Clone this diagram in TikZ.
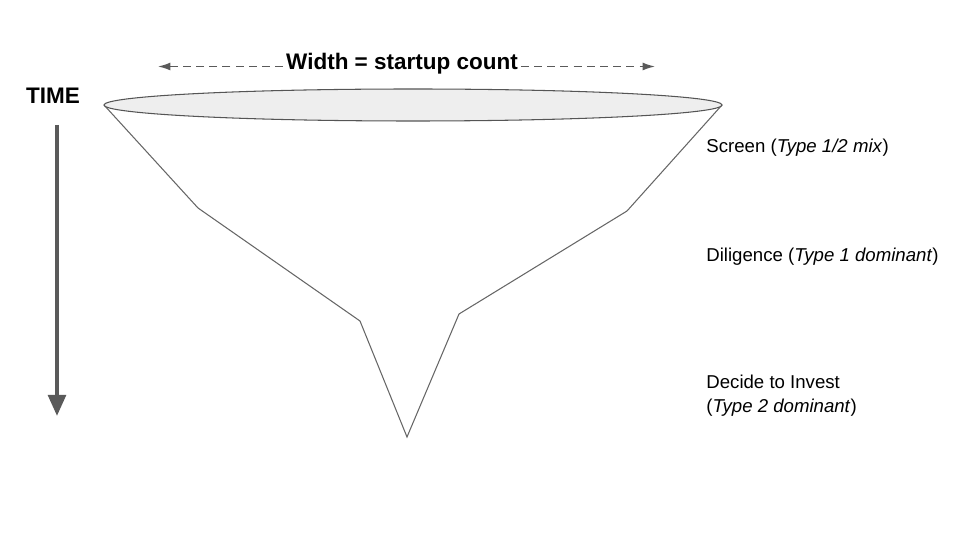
\documentclass[tikz,border=0pt]{standalone}
\usepackage{fontspec}
\setmainfont{Liberation Sans}
\usetikzlibrary{arrows.meta}
\definecolor{rimfill}{HTML}{EEEEEE}
\definecolor{rimline}{HTML}{555555}
\definecolor{arrowgray}{HTML}{5A5A5A}
\tikzset{
  stage/.style={anchor=west,align=left,font=\fontsize{10.6}{13.6}\selectfont},
  heading/.style={font=\fontsize{12.8}{15}\selectfont\bfseries},
}
\begin{document}
\begin{tikzpicture}[x=0.02cm,y=-0.02cm,line width=0.6pt]
\useasboundingbox (0,0) rectangle (960,540);
% funnel body
\draw [color=rimline!90] (104,105) -- (198,208) -- (360,321) -- (407,437) -- (459,314) -- (627,211) -- (722,105);
\filldraw [fill=rimfill,draw=rimline] (413,105) ellipse [x radius=309,y radius=16];
% width arrow
\node [heading,inner sep=1.5pt] (width) at (402,64) {Width = startup count};
\coordinate (wl) at (158,66.5);
\coordinate (wr) at (655,66.5);
\draw [arrowgray,line width=0.8pt,dash pattern=on 4.5pt off 3pt,-{Latex[length=7pt,width=4.5pt]}] (width.west |- wl) -- (wl);
\draw [arrowgray,line width=0.8pt,dash pattern=on 4.5pt off 3pt,-{Latex[length=7pt,width=4.5pt]}] (width.east |- wr) -- (wr);
% time arrow
\node [heading] (time) at (53,96) {TIME};
\coordinate (tend) at (57,416);
\draw [arrowgray,line width=2.3pt,-{Triangle[length=12pt,width=10pt]}] (57,125) -- (tend);
% stages
\node [stage] (screen) at (700,148) {Screen (\textit{Type 1/2 mix})};
\node [stage] (dil) at (700,257) {Diligence (\textit{Type 1 dominant})};
\node [stage] (invest) at (700,396) {Decide to Invest\\(\textit{Type 2 dominant})};
\end{tikzpicture}
\end{document}
